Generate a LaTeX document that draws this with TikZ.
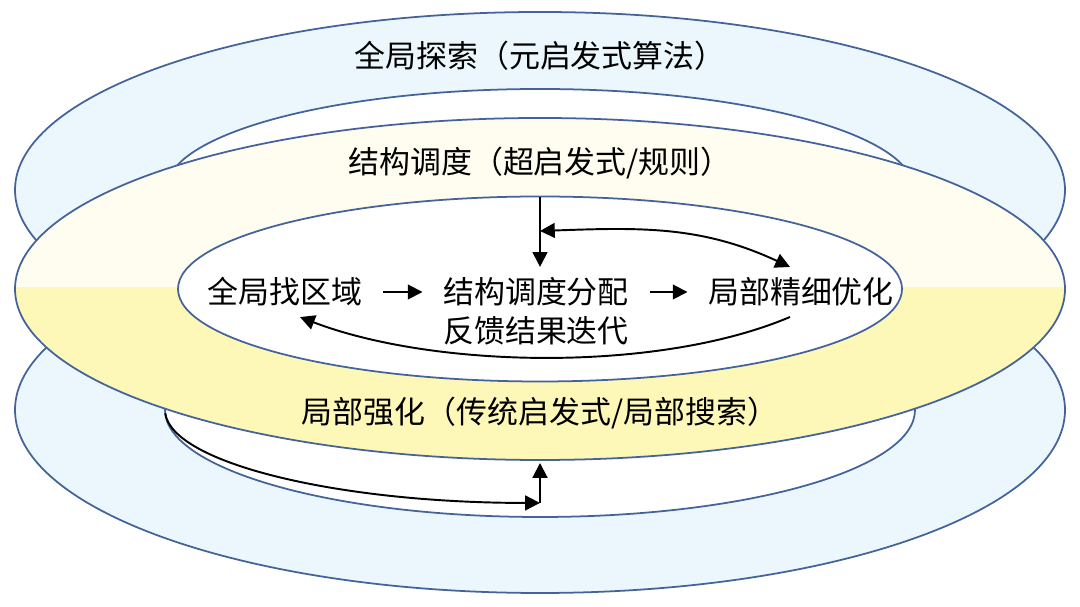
\documentclass[tikz,border=0pt]{standalone}
\usepackage{fontspec}
\setmainfont{Noto Sans CJK SC}
\usepackage{xcolor}
\usepackage{tikz}
\usetikzlibrary{arrows.meta}

\definecolor{ringline}{HTML}{44639A}
\definecolor{ringblue}{HTML}{EBF7FC}
\definecolor{ylight}{HTML}{FFFDF0}
\definecolor{ydark}{HTML}{FDF8B8}

\begin{document}
\begin{tikzpicture}[
		ring/.style={draw=ringline, line width=0.5pt},
		lbl/.style={font=\fontsize{8.8}{10.5}\selectfont, inner sep=0.1cm},
		arr/.style={-{Triangle[length=4.2pt, width=4.2pt]}, line width=0.55pt},
		flow/.style={arr, shorten <=0.1cm, shorten >=0.1cm}
	]
		\useasboundingbox (0,0) rectangle (10.8,6.07);
		
		% Top ring (global exploration)
		\draw[ring, fill=ringblue] (5.40,4.17) ellipse (5.25 and 1.78);
		\draw[ring, fill=white] (5.40,4.17) ellipse (3.74 and 1.01);
		
		% Bottom ring (local intensification)
		\draw[ring, fill=ringblue] (5.40,1.97) ellipse (5.25 and 1.83);
		\draw[ring, fill=white] (5.40,1.97) ellipse (3.75 and 1.07);
		
		% Middle ring (yellow), stronger yellow on the lower half
		\fill[ylight] (5.40,3.18) ellipse (5.25 and 1.71);
		\begin{scope}
			\clip (0,0) rectangle (10.8,3.19);
			\fill[ydark] (5.40,3.18) ellipse (5.25 and 1.71);
		\end{scope}
		\draw[ring] (5.40,3.18) ellipse (5.25 and 1.71);
		\draw[ring, fill=white] (5.40,3.18) ellipse (3.62 and 0.925);
		
		% Labels
		\node[lbl] (explore) at (5.40,5.51) {全局探索（元启发式算法）};
		\node[lbl] (sched) at (5.40,4.44) {结构调度（超启发式/规则）};
		\node[lbl] (intens) at (5.40,1.94) {局部强化（传统启发式/局部搜索）};
		
		\node[lbl] (region) at (2.85,3.15) {全局找区域};
		\node[lbl] (assign) at (5.36,3.15) {结构调度分配};
		\node[lbl] (refine) at (8.01,3.15) {局部精细优化};
		\node[lbl] (feedback) at (5.36,2.76) {反馈结果迭代};
		
		\coordinate (ringtop) at (5.40,4.10);
		\coordinate (loopin) at (5.40,3.76);
		\coordinate (arcstart) at (1.652,1.938);
		\coordinate (arcend) at (5.40,1.04);
		\coordinate (ringbot) at (5.40,1.44);
		
		% Inner cycle
		\draw[flow] (region) -- (assign);
		\draw[flow] (assign) -- (refine);
		\draw[arr] (ringtop) -- (ringtop |- assign.north);
		\draw[arr, {Triangle[length=4.2pt, width=4.2pt]}-{Triangle[length=4.2pt, width=4.2pt]}] (loopin) to[out=2, in=155] ([xshift=-0.11cm]refine.north);
		\draw[arr] ([xshift=-0.11cm]refine.south) to[out=-157, in=-21, looseness=0.75] ([xshift=0.15cm]region.south);
		
		% Feedback from the lower ring
		\draw[arr] (arcstart) arc[start angle=182, end angle=270, x radius=3.75, y radius=0.93];
		\draw[arr] (arcend) -- (ringbot);
		
	\end{tikzpicture}
\end{document}
